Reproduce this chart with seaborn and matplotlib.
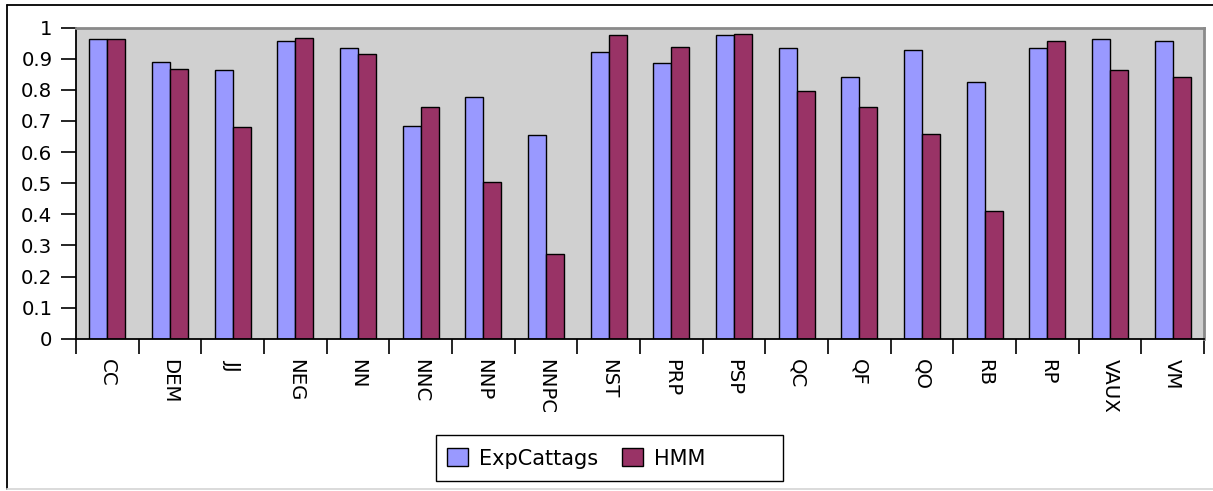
import matplotlib
matplotlib.use("Agg")
import matplotlib.pyplot as plt
import matplotlib.lines as mlines
import matplotlib.patches as mpatches
import seaborn as sns
import pandas as pd
import numpy as np

categories = ["CC", "DEM", "JJ", "NEG", "NN", "NNC", "NNP", "NNPC", "NST",
              "PRP", "PSP", "QC", "QF", "QO", "RB", "RP", "VAUX", "VM"]
expcattags = [0.965, 0.889, 0.863, 0.957, 0.934, 0.684, 0.777, 0.656, 0.921,
              0.886, 0.977, 0.934, 0.840, 0.929, 0.826, 0.936, 0.965, 0.956]
hmm = [0.965, 0.868, 0.681, 0.968, 0.914, 0.746, 0.503, 0.273, 0.976,
       0.939, 0.979, 0.797, 0.746, 0.659, 0.412, 0.957, 0.864, 0.840]
series_names = ["ExpCattags", "HMM"]
ytick_vals = [0, 0.1, 0.2, 0.3, 0.4, 0.5, 0.6, 0.7, 0.8, 0.9, 1.0]
ytick_labels = ["0", "0.1", "0.2", "0.3", "0.4", "0.5", "0.6", "0.7", "0.8", "0.9", "1"]

df = pd.DataFrame({
    "category": categories * 2,
    "value": expcattags + hmm,
    "series": [series_names[0]] * len(categories) + [series_names[1]] * len(categories),
})

sns.set_theme(style="white")
plt.rcParams['font.family'] = ['DejaVu Sans']
plt.rcParams['text.color'] = 'black'

W, H = 1213, 491
fig = plt.figure(figsize=(W / 100, H / 100), dpi=100)
ax = fig.add_axes([76 / W, 1 - 338.7 / H, (1204 - 76) / W, (338.7 - 27.7) / H])
ax.set_facecolor("#d0d0d0")

palette = {"ExpCattags": "#9999ff", "HMM": "#993366"}
sns.barplot(data=df, x="category", y="value", hue="series", order=categories,
            hue_order=series_names, palette=palette, width=0.575, dodge=True,
            edgecolor="black", linewidth=1.0, saturation=1, ax=ax, legend=True)

ax.set_xlim(-0.5, len(categories) - 0.5)
ax.set_ylim(0, 1)
ax.set_yticks(ytick_vals)
ax.set_yticklabels(ytick_labels, fontsize=14.2, color="black")
ax.set_xticks(range(len(categories)))
ax.set_xticklabels(categories, rotation=-90, fontsize=14.2, color="black", ha="center", va="top")
ax.set_xticks(np.arange(-0.5, len(categories), 1.0), minor=True)
ax.tick_params(axis="x", which="major", length=0, pad=14.5)
ax.tick_params(axis="x", which="minor", length=11, width=1.2, direction="out", color="black", bottom=True)
ax.tick_params(axis="y", which="major", length=11, width=1.2, direction="out", color="black", left=True, pad=6)
ax.set_xlabel("")
ax.set_ylabel("")

for s in ["left", "bottom"]:
    ax.spines[s].set_color("black")
    ax.spines[s].set_linewidth(1.3)
    ax.spines[s].set_visible(True)
for s in ["top", "right"]:
    ax.spines[s].set_color("#8a8a8a")
    ax.spines[s].set_linewidth(2.0)
    ax.spines[s].set_visible(True)

leg = ax.get_legend()
handles = leg.legend_handles
leg.remove()
fig.legend(handles, series_names, loc="center left", bbox_to_anchor=(447 / W, 1 - 458.5 / H),
           ncol=2, frameon=False, fontsize=15, labelcolor="black",
           handlelength=1.0, handleheight=0.95, handletextpad=0.53, columnspacing=1.15,
           borderpad=0, borderaxespad=0)

# legend box (wider than its content, as in the reference)
fig.add_artist(mpatches.Rectangle((436 / W, 1 - 481 / H), (783 - 436) / W, (481 - 435) / H,
                                  transform=fig.transFigure, fill=False,
                                  edgecolor="black", lw=1.0))

# outer chart frame
fig.add_artist(mlines.Line2D([6.5 / W, 6.5 / W], [1 - 4.5 / H, 1 - 489 / H],
                             transform=fig.transFigure, color="black", lw=1.3))
fig.add_artist(mlines.Line2D([6.5 / W, 1.0], [1 - 4.5 / H, 1 - 4.5 / H],
                             transform=fig.transFigure, color="black", lw=1.3))
fig.add_artist(mlines.Line2D([6.5 / W, 1.0], [1 - 489 / H, 1 - 489 / H],
                             transform=fig.transFigure, color="#d8d8d8", lw=1.3))

fig.savefig("out.png", dpi=100, facecolor="white")
